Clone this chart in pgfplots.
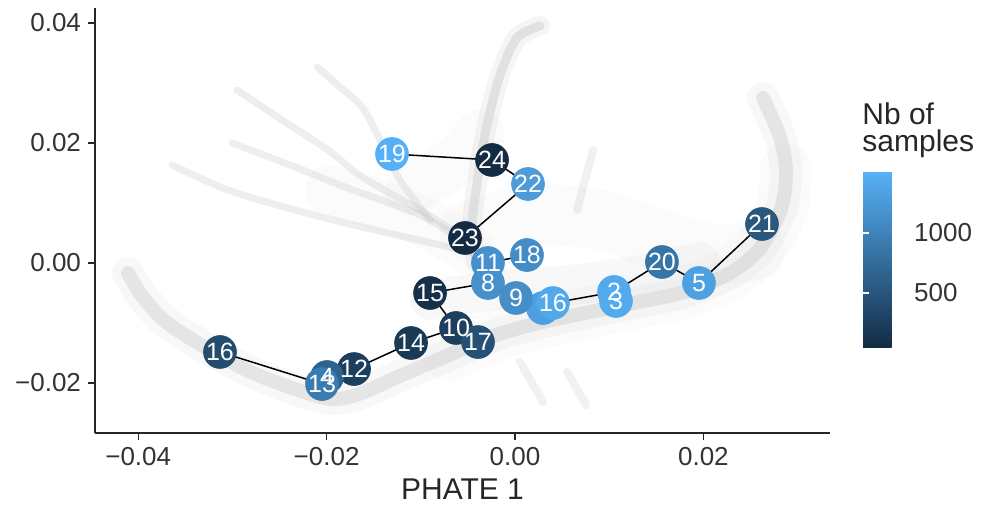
\documentclass[border=0pt]{standalone}
\usepackage{pgfplots}
\pgfplotsset{compat=1.18}
\usepackage{pgfplotstable}
\usepackage{fontspec}
\setmainfont{Liberation Sans}

\pgfplotsset{colormap={nb}{rgb255=(19,43,67) rgb255=(86,177,247)}}

% trajectory nodes: x y nb_of_samples label
\pgfplotstableread{
x y c lab
-0.01306 0.01817 1490 19
-0.00244 0.01717 50 24
0.00138 0.01317 1270 22
-0.00531 0.00417 50 23
-0.00287 0.00000 1150 11
0.00127 0.00133 1100 18
-0.00287 -0.00333 1150 8
-0.00902 -0.00500 100 15
0.00011 -0.00583 1120 9
0.00403 -0.00667 1400 16
0.01051 -0.00483 1420 2
0.01072 -0.00633 1430 3
0.01560 0.00017 850 20
0.01953 -0.00333 1320 5
0.02622 0.00650 520 21
-0.00626 -0.01083 250 10
-0.00393 -0.01317 450 17
-0.01104 -0.01333 190 14
-0.01709 -0.01767 260 12
-0.01996 -0.01900 650 4
-0.02049 -0.02017 920 13
-0.03132 -0.01483 400 16
}\nodes

% gray cloud of cells (traced structure)
\pgfplotstableread{
x y
-0.04108 -0.00167
-0.03960 -0.00550
-0.03705 -0.00983
-0.03312 -0.01383
-0.02803 -0.01817
-0.02304 -0.02117
-0.01953 -0.02267
-0.01656 -0.02183
-0.01200 -0.01867
-0.00701 -0.01533
-0.00202 -0.01200
0.00297 -0.00983
0.01051 -0.00733
0.01805 -0.00483
0.02282 -0.00167
0.02569 0.00183
0.02739 0.00600
0.02845 0.01017
0.02877 0.01550
0.02813 0.02100
0.02633 0.02750
}\arcL

\pgfplotstableread{
x y
-0.00701 -0.01533
-0.00202 -0.01200
0.00297 -0.00983
0.01051 -0.00733
0.01805 -0.00483
0.02282 -0.00167
0.02569 0.00183
0.02739 0.00600
0.02845 0.01017
0.02877 0.01550
}\arcLb

\pgfplotstableread{
x y
0.00265 0.03950
0.00021 0.03750
-0.00159 0.03133
-0.00297 0.02300
-0.00393 0.01433
-0.00456 0.00633
-0.00414 0.00017
}\arcT

\pgfplotstableread{
x y
-0.02102 0.03267
-0.01858 0.02933
-0.01624 0.02600
-0.01433 0.02050
-0.01221 0.01383
-0.00902 0.00717
}\fanA

\pgfplotstableread{
x y
-0.02951 0.02883
-0.02473 0.02383
-0.01985 0.01883
-0.01624 0.01433
-0.01008 0.00883
-0.00584 0.00467
}\fanB

\pgfplotstableread{
x y
-0.03004 0.02000
-0.02335 0.01600
-0.01805 0.01267
-0.01008 0.00800
-0.00584 0.00383
}\fanC

\pgfplotstableread{
x y
-0.03641 0.01633
-0.03047 0.01217
-0.02335 0.00883
-0.01624 0.00600
-0.00796 0.00300
-0.00372 0.00133
}\fanD

\pgfplotstableread{
x y
-0.00478 0.00550
0.00159 0.00800
0.00902 0.00717
0.01539 0.00383
0.02170 0.00133
0.02548 0.00217
}\diffA

\pgfplotstableread{
x y
-0.00902 -0.00617
-0.00159 -0.00450
0.00584 -0.00367
0.01327 -0.00200
0.01964 0.00017
}\diffB

\pgfplotstableread{
x y
-0.01964 0.01217
-0.01433 0.00967
-0.00902 0.00633
-0.00478 0.00217
}\diffC

\pgfplotstableread{
x y
-0.01115 0.01217
-0.00690 0.01633
-0.00372 0.02133
}\diffD

\pgfplotstableread{
x y
0.00828 0.01883
0.00743 0.01383
0.00658 0.00883
}\inner

\pgfplotstableread{
x y
0.00053 -0.01650
0.00297 -0.02317
}\streakA

\pgfplotstableread{
x y
0.00552 -0.01817
0.00754 -0.02367
}\streakB

\begin{document}
\begin{tikzpicture}
\begin{axis}[
  name=main,
  scale only axis,
  width=367.5pt, height=212.5pt,
  xmin=-0.04459, xmax=0.03344,
  ymin=-0.02833, ymax=0.0425,
  scaled ticks=false,
  axis x line*=bottom, axis y line*=left,
  axis line style={black!85, line width=0.7pt, -},
  xtick={-0.04,-0.02,0,0.02}, xticklabels={−0.04,−0.02,0.00,0.02},
  ytick={-0.02,0,0.02,0.04}, yticklabels={−0.02,0.00,0.02,0.04},
  tick align=outside, major tick length=3.5pt,
  tick style={black!85, line width=0.7pt},
  ticklabel style={font=\fontsize{13}{15}\selectfont, text=black!80},
  xlabel={PHATE 1},
  xlabel style={font=\fontsize{15}{18}\selectfont, text=black!85},
  colormap name=nb,
  point meta min=42, point meta max=1508,
  colorbar,
  colorbar style={
    at={(parent axis.south east)}, anchor=south west,
    xshift=8pt, yshift=42.5pt,
    scale only axis, width=17.5pt, height=88pt,
    axis line style={draw=none},
    ytick={500,1000}, yticklabels={500,1000},
    ytick style={draw=none},
    yticklabel style={font=\fontsize{13}{15}\selectfont, text=black!80, xshift=4.5pt},
    extra description/.code={
      \draw[white, line width=0.8pt] (axis description cs:0,0.3124) -- ++(3pt,0);
      \draw[white, line width=0.8pt] (axis description cs:1,0.3124) -- ++(-3pt,0);
      \draw[white, line width=0.8pt] (axis description cs:0,0.6535) -- ++(3pt,0);
      \draw[white, line width=0.8pt] (axis description cs:1,0.6535) -- ++(-3pt,0);
    },
  },
]
% cloud halo
\addplot[gray!45, opacity=0.12, line width=16pt, line cap=round, line join=round, smooth] table {\arcL};
\addplot[gray!45, opacity=0.08, line width=26pt, line cap=round, line join=round, smooth] table {\arcLb};
\addplot[gray!40, opacity=0.08, line width=30pt, line cap=round, line join=round, smooth] table {\diffA};
\addplot[gray!40, opacity=0.13, line width=20pt, line cap=round, line join=round, smooth] table {\diffB};
\addplot[gray!40, opacity=0.08, line width=25pt, line cap=round, line join=round, smooth] table {\diffC};
\addplot[gray!40, opacity=0.08, line width=25pt, line cap=round, line join=round, smooth] table {\diffD};
% cloud core
\addplot[gray!55, opacity=0.3, line width=7pt, line cap=round, line join=round, smooth] table {\arcL};
\addplot[gray!45, opacity=0.18, line width=10pt, line cap=round, line join=round, smooth] table {\arcT};
\addplot[gray!55, opacity=0.32, line width=4.5pt, line cap=round, line join=round, smooth] table {\arcT};
\addplot[gray!50, opacity=0.27, line width=3.5pt, line cap=round, line join=round, smooth] table {\fanA};
\addplot[gray!50, opacity=0.27, line width=3.5pt, line cap=round, line join=round, smooth] table {\fanB};
\addplot[gray!50, opacity=0.27, line width=3.5pt, line cap=round, line join=round, smooth] table {\fanC};
\addplot[gray!50, opacity=0.27, line width=3.5pt, line cap=round, line join=round, smooth] table {\fanD};
\addplot[gray!50, opacity=0.22, line width=4pt, line cap=round, line join=round, smooth] table {\inner};
\addplot[gray!50, opacity=0.22, line width=4pt, line cap=round] table {\streakA};
\addplot[gray!50, opacity=0.22, line width=4pt, line cap=round] table {\streakB};

% trajectory segments
\addplot[black, line width=0.75pt] coordinates {(-0.01306,0.01817) (-0.00244,0.01717) (0.00138,0.01317) (-0.00531,0.00417)};
\addplot[black, line width=0.75pt] coordinates {(-0.00287,0.00000) (0.00127,0.00133)};
\addplot[black, line width=0.75pt] coordinates {(-0.00287,-0.00333) (-0.00902,-0.00500) (-0.00626,-0.01083) (-0.01104,-0.01333) (-0.01709,-0.01767) (-0.02049,-0.02017) (-0.03132,-0.01483)};
\addplot[black, line width=0.75pt] coordinates {(0.00403,-0.00667) (0.01051,-0.00483) (0.01560,0.00017) (0.01953,-0.00333) (0.02622,0.00650)};

% hidden circle behind 16
\addplot[scatter, only marks, mark=*, mark size=8.2pt, point meta=explicit,
  scatter/use mapped color={draw=mapped color, fill=mapped color}]
  coordinates {(0.00297,-0.00750) [1300]};
% circles
\addplot[scatter, only marks, mark=*, mark size=8.2pt, scatter src=explicit,
  scatter/use mapped color={draw=mapped color, fill=mapped color}]
  table[x=x, y=y, meta=c] {\nodes};
% labels
\addplot[draw=none, mark=none, nodes near coords, point meta=explicit symbolic,
  every node near coord/.style={anchor=center, text=white, inner sep=0pt, font=\fontsize{12.5}{14}\selectfont}]
  table[x=x, y=y, meta=lab] {\nodes};
\end{axis}
\node[anchor=base west, inner sep=0pt, font=\fontsize{15}{18}\selectfont, text=black!85] at ([shift={(383.5pt,154pt)}]main.south west) {Nb of};
\node[anchor=base west, inner sep=0pt, font=\fontsize{15}{18}\selectfont, text=black!85] at ([shift={(383.5pt,140.5pt)}]main.south west) {samples};
\pgfresetboundingbox
\path ([shift={(-47.5pt,-40pt)}]main.south west) rectangle ([shift={(446pt,216.5pt)}]main.south west);
\end{tikzpicture}
\end{document}
